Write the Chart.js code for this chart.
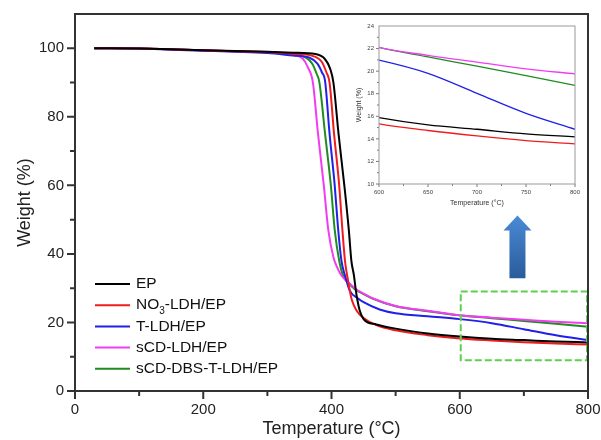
<!DOCTYPE html>
<html>
  <head>
    <meta charset="utf-8" />
    <title>TGA curves</title>
    <style>
      body { margin: 0; background: #fff; }
      #wrap { position: relative; width: 601px; height: 440px; }
      #main { position: absolute; left: 0; top: 0; }
      #inset { position: absolute; left: 345px; top: 12px; }
    </style>
  </head>
  <body>
    <div id="wrap">
      <canvas id="main" width="601" height="440"></canvas>
      <canvas id="inset" width="240" height="200"></canvas>
    </div>

    <script src="https://cdn.jsdelivr.net/npm/chart.js@4/dist/chart.umd.min.js"></script>
    <script>
      // temperature (°C) / weight (%)
      const epT = [30, 100, 150, 200, 250, 300, 340, 375, 390, 398, 403, 411, 420, 427, 431, 435, 438, 440.5, 444, 450, 470, 500, 550, 600, 650, 700, 750, 800];
      const epW = [100, 99.9, 99.7, 99.4, 99.2, 99.0, 98.7, 98.3, 96.8, 94, 90, 75, 60, 47, 38, 33.7, 29.3, 26.4, 23.5, 21.0, 19.4, 18.2, 16.8, 15.88, 15.24, 14.85, 14.44, 14.18];

      const no3T = [30, 100, 150, 200, 250, 300, 340, 370, 385, 392, 397, 404, 412, 417, 421, 424.4, 428.5, 432, 439, 450, 470, 500, 550, 600, 650, 700, 750, 800];
      const no3W = [100, 99.9, 99.7, 99.4, 99.1, 98.9, 98.4, 97.8, 96, 93, 90, 75, 60, 47, 38, 33.7, 29.3, 26.4, 23.5, 21.3, 19.2, 17.7, 16.3, 15.32, 14.74, 14.26, 13.85, 13.56];

      const tT = [30, 100, 150, 200, 250, 300, 340, 365, 378, 385, 390, 397, 405, 410, 415.5, 421, 428.5, 441.5, 450, 475, 500, 550, 600, 650, 700, 750, 800];
      const tW = [100, 99.9, 99.6, 99.3, 99.0, 98.6, 97.9, 97.3, 95.5, 93, 90.4, 75, 60, 48, 38, 33.7, 29.3, 27, 25.9, 23.8, 22.7, 21.8, 20.97, 19.8, 18.03, 16.26, 14.85];

      const scdT = [30, 100, 150, 200, 250, 300, 340, 355, 363, 371, 379, 388, 395, 403, 409, 415.5, 428, 439, 450, 465, 500, 550, 600, 650, 700, 750, 800];
      const scdW = [100, 99.9, 99.7, 99.4, 99.1, 98.8, 98.0, 97.0, 94.5, 90, 75, 60, 47, 39, 36, 33.7, 31.4, 29.6, 28.4, 27.0, 24.8, 23.4, 22.1, 21.4, 20.8, 20.2, 19.76];

      const dbsT = [30, 100, 150, 200, 250, 300, 340, 360, 370, 377, 381, 390, 399, 405, 412, 418, 428, 436, 450, 465, 500, 550, 600, 650, 700, 750, 800];
      const dbsW = [100, 99.9, 99.7, 99.4, 99.1, 98.8, 98.1, 97.3, 95.5, 92.5, 90.2, 75, 60, 47, 38, 33.7, 31.2, 29.8, 28.3, 26.9, 24.7, 23.3, 22.1, 21.26, 20.44, 19.6, 18.74];

      const seriesNames = ["EP", "NO₃-LDH/EP", "T-LDH/EP", "sCD-LDH/EP", "sCD-DBS-T-LDH/EP"];
      const seriesT = [epT, no3T, tT, scdT, dbsT];
      const seriesW = [epW, no3W, tW, scdW, dbsW];
      const colors = ["#000000", "#ee1c1c", "#2020e8", "#f23cf2", "#1f8c1f"];

      // region magnified in the inset
      const zoomTemp = [600, 800];
      const zoomWeight = [9, 29];

      const font = '"Liberation Sans", Arial, sans-serif';

      function makeSets(width) {
        return seriesNames.map((name, i) => ({
          label: name,
          data: seriesT[i].map((t, j) => ({ x: t, y: seriesW[i][j] })),
          borderColor: colors[i],
          borderWidth: width,
          pointRadius: 0,
          cubicInterpolationMode: "monotone",
          fill: false,
        }));
      }

      // stop the scales from adding room for overhanging labels
      function fixX(h) {
        return (s) => { s.height = h; s.paddingLeft = 0; s.paddingRight = 0; };
      }
      function fixY(w) {
        return (s) => { s.width = w; s.paddingTop = 0; s.paddingBottom = 0; };
      }

      // frame + outward ticks (short ones for unlabeled values)
      function frameTicks(id, major, minor, color, width, tickColor) {
        return {
          id: id,
          afterDraw(chart) {
            const ctx = chart.ctx, a = chart.chartArea;
            const xs = chart.scales.x, ys = chart.scales.y;
            ctx.save();
            ctx.strokeStyle = tickColor;
            ctx.lineWidth = width;
            ctx.beginPath();
            xs.ticks.forEach((t) => {
              const px = xs.getPixelForValue(t.value);
              const len = t.label !== "" ? major : minor;
              ctx.moveTo(px, a.bottom);
              ctx.lineTo(px, a.bottom + len);
            });
            ys.ticks.forEach((t) => {
              if (t.value >= ys.max) return;
              const py = ys.getPixelForValue(t.value);
              const len = t.label !== "" ? major : minor;
              ctx.moveTo(a.left, py);
              ctx.lineTo(a.left - len, py);
            });
            ctx.stroke();
            ctx.strokeStyle = color;
            ctx.strokeRect(a.left, a.top, a.width, a.height);
            ctx.restore();
          },
        };
      }

      const legendBox = {
        id: "legendBox",
        afterDraw(chart) {
          const ctx = chart.ctx, a = chart.chartArea;
          ctx.save();
          ctx.textBaseline = "middle";
          chart.data.datasets.forEach((ds, i) => {
            const y = a.bottom - 107 + i * 21.2;
            ctx.strokeStyle = ds.borderColor;
            ctx.lineWidth = 2;
            ctx.beginPath();
            ctx.moveTo(a.left + 20, y);
            ctx.lineTo(a.left + 55, y);
            ctx.stroke();
            ctx.fillStyle = "#111";
            const parts = ds.label.split("₃");
            let x = a.left + 61;
            ctx.font = "15.5px " + font;
            ctx.fillText(parts[0], x, y);
            if (parts.length > 1) {
              x += ctx.measureText(parts[0]).width;
              ctx.font = "10px " + font;
              ctx.fillText("3", x, y + 6);
              x += ctx.measureText("3").width;
              ctx.font = "15.5px " + font;
              ctx.fillText(parts[1], x, y);
            }
          });
          ctx.restore();
        },
      };

      const marks = {
        id: "marks",
        afterDatasetsDraw(chart) {
          const ctx = chart.ctx, xs = chart.scales.x, ys = chart.scales.y;
          ctx.save();
          // dashed box round the zoomed region
          const x0 = xs.getPixelForValue(zoomTemp[0]) + 1, x1 = xs.getPixelForValue(zoomTemp[1]) - 1;
          const y0 = ys.getPixelForValue(zoomWeight[1]), y1 = ys.getPixelForValue(zoomWeight[0]);
          ctx.setLineDash([7, 3]);
          ctx.strokeStyle = "#5fcf4f";
          ctx.lineWidth = 2;
          ctx.strokeRect(x0, y0, x1 - x0, y1 - y0);
          ctx.setLineDash([]);
          // blue arrow pointing at the inset
          const cx = xs.getPixelForValue(690);
          const tip = ys.getPixelForValue(51.2), base = ys.getPixelForValue(46.8), foot = ys.getPixelForValue(32.9);
          const g = ctx.createLinearGradient(0, tip, 0, foot);
          g.addColorStop(0, "#4a8ad6");
          g.addColorStop(1, "#2a5c9a");
          ctx.fillStyle = g;
          ctx.beginPath();
          ctx.moveTo(cx, tip);
          ctx.lineTo(cx + 14, base);
          ctx.lineTo(cx + 8, base);
          ctx.lineTo(cx + 8, foot);
          ctx.lineTo(cx - 8, foot);
          ctx.lineTo(cx - 8, base);
          ctx.lineTo(cx - 14, base);
          ctx.closePath();
          ctx.fill();
          ctx.restore();
        },
      };

      new Chart(document.getElementById("main"), {
        type: "line",
        data: { datasets: makeSets(2) },
        options: {
          responsive: false,
          animation: false,
          devicePixelRatio: 1,
          layout: { padding: { top: 14, right: 13, left: 0, bottom: 0 } },
          plugins: { legend: { display: false }, tooltip: { enabled: false } },
          scales: {
            x: {
              type: "linear",
              min: 0,
              max: 800,
              afterFit: fixX(49),
              grid: { display: false, drawTicks: false },
              border: { display: false },
              ticks: {
                stepSize: 100,
                autoSkip: false,
                maxRotation: 0,
                padding: 10,
                color: "#222",
                font: { family: font, size: 15 },
                callback: (v) => (v % 200 === 0 ? v : ""),
              },
              title: { display: true, text: "Temperature (°C)", color: "#222", font: { family: font, size: 18 }, padding: { bottom: 0 } },
            },
            y: {
              min: 0,
              max: 110,
              afterFit: fixY(75),
              grid: { display: false, drawTicks: false },
              border: { display: false },
              ticks: {
                stepSize: 10,
                autoSkip: false,
                padding: 11,
                color: "#222",
                font: { family: font, size: 15 },
                callback: (v) => (v % 20 === 0 && v <= 100 ? v : ""),
              },
              title: { display: true, text: "Weight (%)", color: "#222", font: { family: font, size: 18 }, padding: { top: 14 } },
            },
          },
        },
        plugins: [frameTicks("mainFrame", 8, 5, "#333", 2, "#333"), legendBox, marks],
      });

      new Chart(document.getElementById("inset"), {
        type: "line",
        data: { datasets: makeSets(1.3) },
        options: {
          responsive: false,
          animation: false,
          devicePixelRatio: 1,
          layout: { padding: { top: 14, right: 10, left: 0, bottom: 0 } },
          plugins: { legend: { display: false }, tooltip: { enabled: false } },
          scales: {
            x: {
              type: "linear",
              min: 600,
              max: 800,
              afterFit: fixX(28),
              grid: { display: false, drawTicks: false },
              border: { display: false },
              ticks: {
                stepSize: 25,
                autoSkip: false,
                maxRotation: 0,
                padding: 5,
                color: "#444",
                font: { family: font, size: 6 },
                callback: (v) => (v % 50 === 0 ? v : ""),
              },
              title: { display: true, text: "Temperature (°C)", color: "#333", font: { family: font, size: 7 }, padding: { bottom: 5 } },
            },
            y: {
              min: 10,
              max: 24,
              afterFit: fixY(34),
              grid: { display: false, drawTicks: false },
              border: { display: false },
              ticks: {
                stepSize: 1,
                autoSkip: false,
                padding: 5,
                color: "#444",
                font: { family: font, size: 6 },
                callback: (v) => (v % 2 === 0 ? v : ""),
              },
              title: { display: true, text: "Weight (%)", color: "#333", font: { family: font, size: 7 }, padding: { top: 10 } },
            },
          },
        },
        plugins: [frameTicks("insetFrame", 3, 2, "#999", 1, "#777")],
      });
    </script>
  </body>
</html>
